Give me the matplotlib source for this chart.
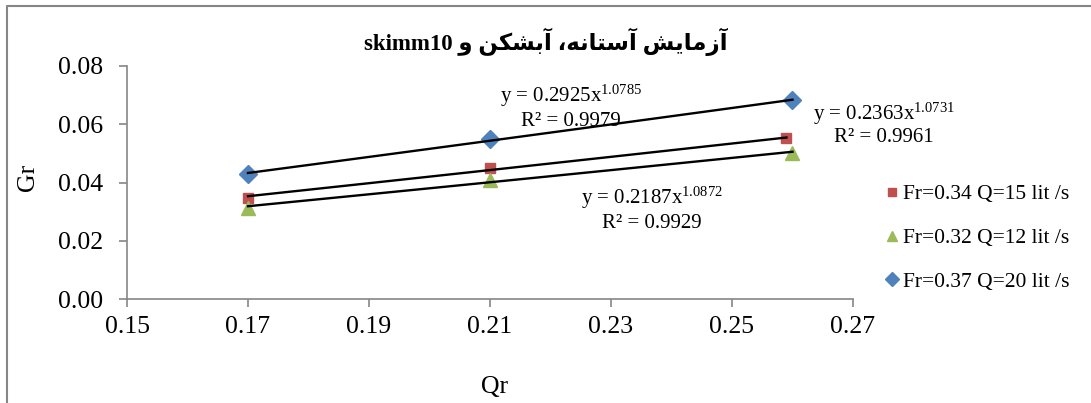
import matplotlib
matplotlib.use('Agg')
import matplotlib.pyplot as plt
import numpy as np
from matplotlib.lines import Line2D

plt.rcParams['font.family'] = ['Liberation Serif', 'DejaVu Sans']
plt.rcParams['mathtext.fontset'] = 'custom'
plt.rcParams['mathtext.rm'] = 'Liberation Serif'
plt.rcParams['mathtext.default'] = 'rm'

# values
qr_15 = [0.17, 0.21, 0.259]
gr_15 = [0.0348, 0.0451, 0.0554]
qr_12 = [0.17, 0.21, 0.26]
gr_12 = [0.0313, 0.0410, 0.0503]
qr_20 = [0.17, 0.21, 0.26]
gr_20 = [0.0430, 0.0551, 0.0682]

labels = ['Fr=0.34 Q=15 lit /s', 'Fr=0.32 Q=12 lit /s', 'Fr=0.37 Q=20 lit /s']

# power trendlines as printed on the chart: a, b, R2
fit_15 = (0.2363, 1.0731, 0.9961)
fit_12 = (0.2187, 1.0872, 0.9929)
fit_20 = (0.2925, 1.0785, 0.9979)

xticks = [0.15, 0.17, 0.19, 0.21, 0.23, 0.25, 0.27]
yticks = [0.00, 0.02, 0.04, 0.06, 0.08]

# persian title, presentation forms in visual order (no shaping in matplotlib)
w_va = "\uFEED"
w_abshekan = "\uFEE6\uFEDC\uFEB8\uFE91\uFE81"
w_astaneh = "\u060C\uFEEA\uFEE7\uFE8E\uFE98\uFEB3\uFE81"
w_azmayesh = "\uFEB6\uFEF3\uFE8E\uFEE3\uFEAF\uFE81"
title = "skimm10 " + w_va + " " + w_abshekan + " " + w_astaneh + " " + w_azmayesh

W, H = 1091, 403
fig = plt.figure(figsize=(W / 100, H / 100), dpi=100)
ax = fig.add_axes([127 / W, 1 - 299 / H, (853 - 127) / W, (299 - 66) / H])

gray = '#868686'
blue, red, green = '#4F81BD', '#C0504D', '#9BBB59'

series = [
    (qr_15, gr_15, fit_15, red, 's', 7.5),
    (qr_12, gr_12, fit_12, green, '^', 9.5),
    (qr_20, gr_20, fit_20, blue, 'D', 9),
]
handles = []
for xs, ys, fit, c, m, ms in series:
    xx = np.linspace(min(xs), max(xs), 50)
    ax.plot(xx, fit[0] * xx ** fit[1], color='black', lw=1.7, zorder=3)
    h, = ax.plot(xs, ys, linestyle='none', marker=m, color=c, ms=ms, zorder=2)
    handles.append(h)

ax.set_xlim(0.15, 0.27)
ax.set_ylim(0, 0.08)
ax.set_xticks(xticks)
ax.set_yticks(yticks)
ax.set_xticklabels(['%.2f' % v for v in xticks])
ax.set_yticklabels(['%.2f' % v for v in yticks])
for s in ['top', 'right']:
    ax.spines[s].set_visible(False)
for s in ['left', 'bottom']:
    ax.spines[s].set_color(gray)
    ax.spines[s].set_linewidth(1.2)
ax.tick_params(axis='both', colors=gray, labelcolor='black', length=6, width=1.2,
               labelsize=18.5)
ax.tick_params(axis='y', pad=11)
ax.tick_params(axis='x', pad=6)

# trendline labels
eq_pos = [(fit_20, 571, 102, 126), (fit_15, 884, 120, 142), (fit_12, 652, 204, 228)]
for fit, px, y1, y2 in eq_pos:
    fig.text(px / W, 1 - y1 / H, 'y = %.4fx$^{%.4f}$' % (fit[0], fit[1]),
             ha='center', va='baseline', fontsize=15)
    fig.text(px / W, 1 - y2 / H, 'R\u00b2 = %.4f' % fit[2],
             ha='center', va='baseline', fontsize=15)

fig.text(546 / W, 1 - 42 / H, title, ha='center', va='center', fontsize=16.5,
         fontweight='bold')
fig.text(28 / W, 1 - 177 / H, 'Gr', rotation=90, ha='center', va='center',
         fontsize=18.5)
fig.text(495 / W, 1 - 387 / H, 'Qr', ha='center', va='center', fontsize=18.5)

fig.legend(handles, labels, loc='center left', bbox_to_anchor=(886 / W, 1 - 238 / H),
           frameon=False, fontsize=15.5, handlelength=0.6, handletextpad=0.2,
           labelspacing=1.1, borderpad=0, borderaxespad=0, markerscale=0.75)

# chart area border (only top and left visible in the crop)
fig.add_artist(Line2D([7 / W, 7 / W, 1], [0, 1 - 6 / H, 1 - 6 / H],
                      color=gray, lw=1.5, transform=fig.transFigure))

fig.savefig('out.png', dpi=100)
